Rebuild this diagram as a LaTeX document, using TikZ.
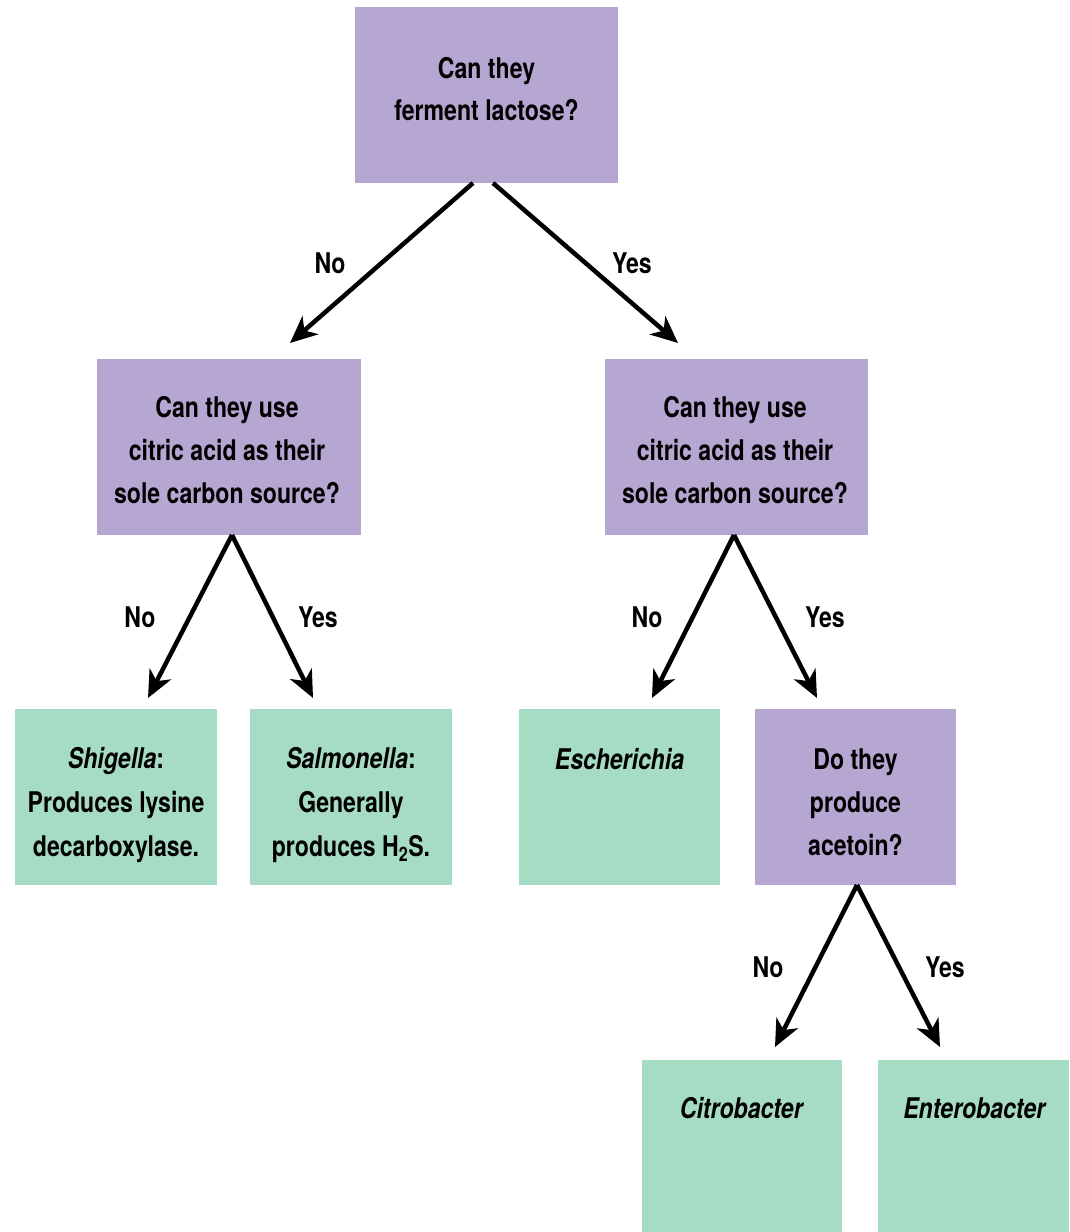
\documentclass[tikz,border=0pt]{standalone}
\usepackage{fontspec}
\setmainfont{TeX Gyre Heros}[FakeStretch=0.81]
\usetikzlibrary{arrows.meta,calc}
\definecolor{qpurple}{HTML}{B6A6D2}
\definecolor{tgreen}{HTML}{A6DBC4}
\begin{document}
\begin{tikzpicture}[x=1pt,y=-1pt,
  qbox/.style={fill=qpurple, draw=none, inner sep=0pt, outer sep=0pt},
  tbox/.style={fill=tgreen, draw=none, inner sep=0pt, outer sep=0pt},
  txt/.style={align=center, anchor=base, inner sep=0pt, font=\fontsize{28.5}{43}\selectfont\bfseries},
  lbl/.style={anchor=base, inner sep=0pt, font=\fontsize{28.5}{43}\selectfont\bfseries},
  arr/.style={line width=4.5pt, -{Stealth[length=27pt,width=24pt,inset=8pt]}}]
\fill[white] (0,0) rectangle (1069,1232);
\useasboundingbox (0,0) rectangle (1069,1232);

% boxes
\node[qbox, minimum width=263pt, minimum height=176pt] (top) at (486.5,95) {};
\node[qbox, minimum width=264pt, minimum height=176pt] (L) at (229,447) {};
\node[qbox, minimum width=263pt, minimum height=176pt] (R) at (736.5,447) {};
\node[tbox, minimum width=202pt, minimum height=176pt] (shig) at (116,797) {};
\node[tbox, minimum width=202pt, minimum height=176pt] (salm) at (351,797) {};
\node[tbox, minimum width=201pt, minimum height=176pt] (esch) at (619.5,797) {};
\node[qbox, minimum width=201pt, minimum height=176pt] (acet) at (855.5,797) {};
\node[tbox, minimum width=200pt, minimum height=172pt] (citro) at (742,1146) {};
\node[tbox, minimum width=191pt, minimum height=172pt] (entero) at (973.5,1146) {};

% texts (anchor base = baseline of the last line)
\node[txt, font=\fontsize{28.5}{42}\selectfont\bfseries] (ttop) at (486.5,120) {Can they\\ferment lactose?};
\node[txt] (tL) at (227,503) {Can they use\\citric acid as their\\sole carbon source?};
\node[txt] (tR) at (735,503) {Can they use\\citric acid as their\\sole carbon source?};
\node[txt, font=\fontsize{28.5}{44}\selectfont\bfseries] (tshig) at (116,856) {\textit{Shigella}:\\Produces lysine\\decarboxylase.};
\node[txt, font=\fontsize{28.5}{44}\selectfont\bfseries] (tsalm) at (351,856) {\textit{Salmonella}:\\Generally\\produces H\textsubscript{2}S.};
\node[txt] (tesch) at (619.5,769) {\textit{Escherichia}};
\node[txt] (tacet) at (855.5,855) {Do they\\produce\\acetoin?};
\node[txt] (tcitro) at (742,1118) {\textit{Citrobacter}};
\node[txt] (tentero) at (975,1118) {\textit{Enterobacter}};

% arrow end points
\coordinate (eL) at ($(L.north)+(61,-16)$);
\coordinate (eR) at ($(R.north)+(-58.5,-16)$);
\coordinate (eShig) at ($(shig.north)+(32,-11)$);
\coordinate (eSalm) at ($(salm.north)+(-38,-11)$);
\coordinate (eEsch) at ($(esch.north)+(32.5,-11)$);
\coordinate (eAcet) at ($(acet.north)+(-38.5,-11)$);
\coordinate (eCitro) at ($(citro.north)+(33,-13)$);
\coordinate (eEntero) at ($(entero.north)+(-33.5,-13)$);

% connectors
\draw[arr] ($(top.south)+(-13.5,0)$) -- (eL);
\draw[arr] ($(top.south)+(6.5,0)$) -- (eR);
\draw[arr] ($(L.south)+(3,0)$) -- (eShig);
\draw[arr] ($(L.south)+(3,0)$) -- (eSalm);
\draw[arr] ($(R.south)+(-2.5,0)$) -- (eEsch);
\draw[arr] ($(R.south)+(-2.5,0)$) -- (eAcet);
\draw[arr] ($(acet.south)+(1.5,0)$) -- (eCitro);
\draw[arr] ($(acet.south)+(1.5,0)$) -- (eEntero);

% labels
\node[lbl] (l1) at (330,273) {No};
\node[lbl] (l2) at (632,273) {Yes};
\node[lbl] (l3) at (140,627) {No};
\node[lbl] (l4) at (318,627) {Yes};
\node[lbl] (l5) at (647,627) {No};
\node[lbl] (l6) at (825,627) {Yes};
\node[lbl] (l7) at (768,977) {No};
\node[lbl] (l8) at (945,977) {Yes};
\end{tikzpicture}
\end{document}
